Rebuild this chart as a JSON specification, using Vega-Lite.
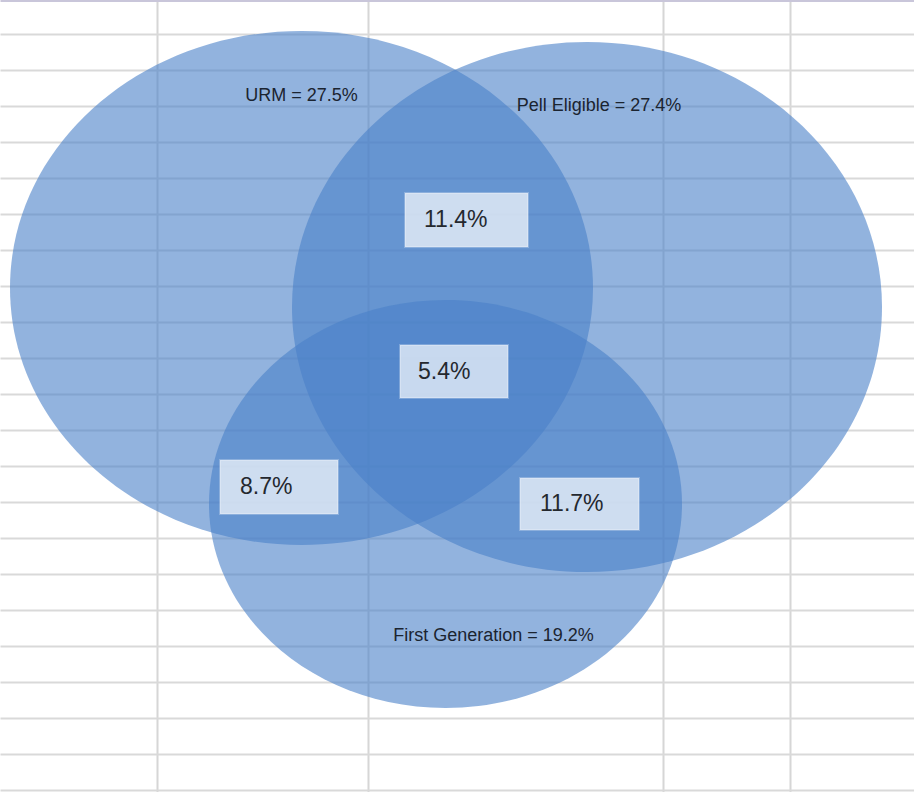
{
  "$schema": "https://vega.github.io/schema/vega-lite/v6.json",
  "width": 914,
  "height": 792,
  "autosize": {"type": "none"},
  "padding": 0,
  "background": "white",
  "config": {"view": {"stroke": null}},
  "datasets": {
    "sets": [
      {"set": "URM", "label": "URM = 27.5%", "cx": 301.5, "cy": 288, "lx": 301.5, "ly": 96},
      {"set": "Pell Eligible", "label": "Pell Eligible = 27.4%", "cx": 587, "cy": 307, "lx": 599, "ly": 106},
      {"set": "First Generation", "label": "First Generation = 19.2%", "cx": 445.5, "cy": 504, "lx": 493.5, "ly": 636}
    ],
    "overlaps": [
      {"region": "URM & Pell Eligible", "share": 0.114, "x": 424, "y": 220},
      {"region": "All three", "share": 0.054, "x": 418, "y": 371.5},
      {"region": "URM & First Generation", "share": 0.087, "x": 240, "y": 487},
      {"region": "Pell Eligible & First Generation", "share": 0.117, "x": 540, "y": 504}
    ]
  },
  "resolve": {"scale": {"shape": "independent"}},
  "layer": [
    {
      "data": {"name": "sets"},
      "mark": {"type": "point", "filled": true, "size": 4, "color": "#4A80C8", "opacity": 0.6, "strokeWidth": 0},
      "encoding": {
        "x": {
          "field": "cx", "type": "quantitative",
          "scale": {"domain": [0, 914], "nice": false, "zero": false},
          "axis": {"orient": "top", "values": [157, 368, 663, 790], "tickCount": 50, "grid": true, "gridColor": "#d6d6d6", "gridWidth": 2, "labels": false, "ticks": false, "domain": true, "domainColor": "#c9c6da", "domainWidth": 3, "title": null}
        },
        "y": {
          "field": "cy", "type": "quantitative",
          "scale": {"domain": [0, 792], "reverse": true, "nice": false, "zero": false},
          "axis": {"values": [34, 70, 106, 142, 178, 214, 250, 286, 322, 358, 394, 430, 466, 502, 538, 574, 610, 646, 682, 718, 754, 790], "tickCount": 50, "grid": true, "gridColor": "#d9d9d9", "gridWidth": 2, "labels": false, "ticks": false, "domain": false, "title": null}
        },
        "shape": {
          "field": "set", "type": "nominal", "legend": null,
          "scale": {
            "domain": ["URM", "Pell Eligible", "First Generation"],
            "range": [
              "M-291.5,0C-291.5,-141.9,-161,-257,0,-257C161,-257,291.5,-141.9,291.5,0C291.5,141.9,161,257,0,257C-161,257,-291.5,141.9,-291.5,0Z",
              "M-295,0C-295,-146.4,-162.9,-265,0,-265C162.9,-265,295,-146.4,295,0C295,146.4,162.9,265,0,265C-162.9,265,-295,146.4,-295,0Z",
              "M-236.5,0C-236.5,-112.7,-130.6,-204,0,-204C130.6,-204,236.5,-112.7,236.5,0C236.5,112.7,130.6,204,0,204C-130.6,204,-236.5,112.7,-236.5,0Z"
            ]
          }
        }
      }
    },
    {
      "data": {"name": "sets"},
      "mark": {"type": "text", "font": "Liberation Sans", "fontSize": 18, "color": "#1b2430", "align": "center", "baseline": "middle"},
      "encoding": {
        "x": {"field": "lx", "type": "quantitative"},
        "y": {"field": "ly", "type": "quantitative"},
        "text": {"field": "label", "type": "nominal"}
      }
    },
    {
      "data": {"name": "overlaps"},
      "mark": {"type": "point", "filled": true, "size": 4, "fill": "white", "fillOpacity": 0.68, "stroke": "white", "strokeOpacity": 0.25, "strokeWidth": 2, "opacity": 1},
      "encoding": {
        "x": {"field": "x", "type": "quantitative"},
        "y": {"field": "y", "type": "quantitative"},
        "shape": {
          "field": "region", "type": "nominal", "legend": null,
          "scale": {
            "domain": ["URM & Pell Eligible", "All three", "URM & First Generation", "Pell Eligible & First Generation"],
            "range": [
              "M-19,-27L104,-27L104,27L-19,27Z",
              "M-18,-26.5L90,-26.5L90,26.5L-18,26.5Z",
              "M-20,-27L98,-27L98,27L-20,27Z",
              "M-20,-26L99,-26L99,26L-20,26Z"
            ]
          }
        }
      }
    },
    {
      "data": {"name": "overlaps"},
      "mark": {"type": "text", "font": "Liberation Sans", "fontSize": 23, "color": "#24282e", "align": "left", "baseline": "middle"},
      "encoding": {
        "x": {"field": "x", "type": "quantitative"},
        "y": {"field": "y", "type": "quantitative"},
        "text": {"field": "share", "type": "quantitative", "format": ".1%"}
      }
    }
  ]
}
